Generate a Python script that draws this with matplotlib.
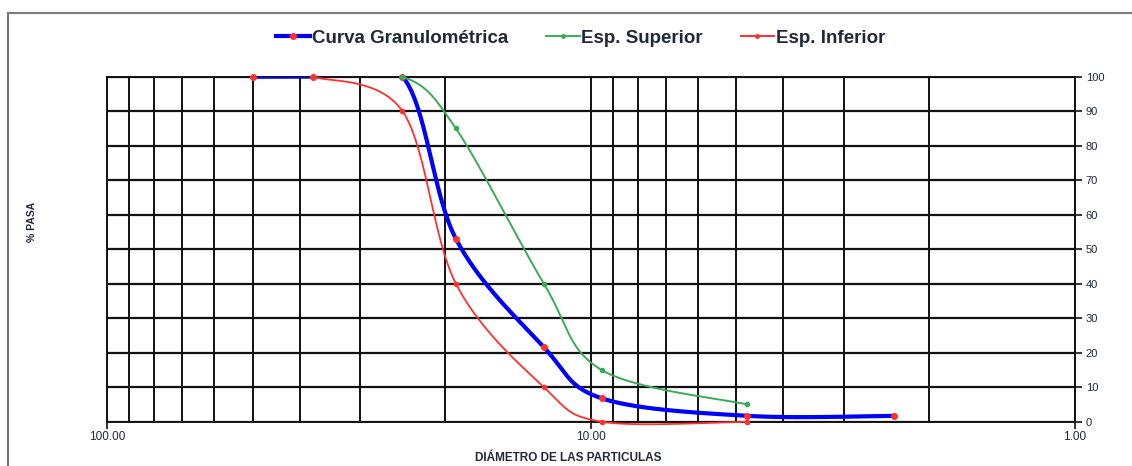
import numpy as np
import matplotlib
matplotlib.use("Agg")
import matplotlib.pyplot as plt
from matplotlib.lines import Line2D
from matplotlib.patches import Rectangle
from matplotlib.ticker import FixedLocator, NullFormatter, FixedFormatter

# ---------------- data ----------------
curva_x = [50, 37.5, 24.5, 19, 12.5, 9.5, 4.75, 2.36]
curva_y = [100, 100, 100, 53, 21.6, 6.8, 1.7, 1.7]

sup_x = [37.5, 24.5, 19, 12.5, 9.5, 4.75]
sup_y = [100, 100, 85, 40, 15, 5]

inf_x = [37.5, 24.5, 19, 12.5, 9.5, 4.75]
inf_y = [100, 90, 40, 10, 0, 0]

x_major = [100, 10, 1]
x_major_labels = ["100.00", "10.00", "1.00"]
y_ticks = list(range(0, 101, 10))

legend_labels = ["Curva Granulométrica", "Esp. Superior", "Esp. Inferior"]

# ---------------- helpers ----------------
def excel_smooth(xs, ys, n=60):
    u = np.log10(np.asarray(xs, float))
    y = np.asarray(ys, float)
    P = np.column_stack([u, y])
    out = []
    m = len(P)
    for i in range(m - 1):
        p0 = P[i - 1] if i > 0 else P[i]
        p1 = P[i]
        p2 = P[i + 1]
        p3 = P[i + 2] if i + 2 < m else P[i + 1]
        b1 = p1 + (p2 - p0) / 6.0
        b2 = p2 - (p3 - p1) / 6.0
        t = np.linspace(0, 1, n)[:, None]
        seg = ((1 - t) ** 3) * p1 + 3 * ((1 - t) ** 2) * t * b1 + 3 * (1 - t) * t ** 2 * b2 + t ** 3 * p2
        if i > 0:
            seg = seg[1:]
        out.append(seg)
    out = np.vstack(out)
    return 10 ** out[:, 0], out[:, 1]

plt.rcParams['font.family'] = ['Liberation Sans', 'DejaVu Sans']

W, H = 1132, 466
fig = plt.figure(figsize=(W / 100, H / 100), dpi=100)
fig.patch.set_facecolor("white")

# outer border
border_col = "#7a7a7a"
fig.add_artist(Line2D([8 / W, 8 / W], [0, 1 - 13 / H], transform=fig.transFigure, color=border_col, lw=1.5))
fig.add_artist(Line2D([8 / W, 1], [1 - 13 / H, 1 - 13 / H], transform=fig.transFigure, color=border_col, lw=1.5))

ax = fig.add_axes([107 / W, 44.3 / H, (1074.5 - 107) / W, (421.7 - 76.7) / H])
ax.set_xscale("log")
ax.set_xlim(100, 1)
ax.set_ylim(0, 100)

ax.xaxis.set_major_locator(FixedLocator(x_major))
ax.xaxis.set_major_formatter(FixedFormatter(x_major_labels))
ax.xaxis.set_minor_locator(FixedLocator([k * 10 ** e for e in (0, 1) for k in range(2, 10)]))
ax.xaxis.set_minor_formatter(NullFormatter())
ax.yaxis.set_major_locator(FixedLocator(y_ticks))
ax.yaxis.tick_right()

grid_col = "#111111"
ax.grid(True, which="both", axis="x", color=grid_col, lw=1.4)
ax.grid(True, which="major", axis="y", color=grid_col, lw=1.6)
ax.set_axisbelow(True)
for s in ax.spines.values():
    s.set_color(grid_col)
    s.set_linewidth(1.4)

txt_col = "#20283a"
ax.tick_params(axis="x", which="major", direction="out", length=5, width=1.2, color=grid_col,
               labelsize=8.5, labelcolor=txt_col, pad=2)
ax.tick_params(axis="x", which="minor", length=0)
ax.tick_params(axis="y", which="major", direction="out", length=5, width=1.2, color=grid_col,
               labelsize=8, labelcolor=txt_col, pad=3, right=True, left=False)

# curves
blue = "#0000ff"
green = "#3aaa5a"
red = "#ff3030"

bx, by = excel_smooth(curva_x, curva_y)
gx, gy = excel_smooth(sup_x, sup_y)
rx, ry = excel_smooth(inf_x, inf_y)

ax.plot(bx, by, color=blue, lw=3.0, zorder=3, solid_capstyle="round")
ax.plot(gx, gy, color=green, lw=1.4, zorder=4)
red_line, = ax.plot(rx, ry, color=red, lw=1.3, zorder=5)
clip_rect = Rectangle((1, -1.5), 99, 101.5, transform=ax.transData, fill=False)
red_line.set_clip_path(clip_rect)

ax.plot(curva_x, curva_y, ls="none", marker="o", ms=4, color=red, mec=red, zorder=6, clip_on=False)
ax.plot(sup_x, sup_y, ls="none", marker="o", ms=3, color=green, mec=green, zorder=6, clip_on=False)
ax.plot(inf_x, inf_y, ls="none", marker="o", ms=3, color=red, mec=red, zorder=6, clip_on=False)

fig.text(32 / W, 1 - 222 / H, "% PASA", rotation=90, ha="center", va="center",
         fontsize=7.5, fontweight="bold", color=txt_col)
fig.text(568 / W, 1 - 458 / H, "DIÁMETRO DE LAS PARTICULAS", ha="center", va="center",
         fontsize=8.5, fontweight="bold", color=txt_col)

handles = [
    Line2D([], [], color=blue, lw=3, marker="o", ms=4, mfc=red, mec=red),
    Line2D([], [], color=green, lw=1.4, marker="o", ms=2.5, mfc=green, mec=green),
    Line2D([], [], color=red, lw=1.4, marker="o", ms=2.5, mfc=red, mec=red),
]
leg = fig.legend(handles, legend_labels, loc="center", bbox_to_anchor=(581 / W, 1 - 38 / H),
                 ncol=3, frameon=False, numpoints=1, handlelength=1.8, handletextpad=0.1,
                 columnspacing=2.0, prop={"size": 13.5, "weight": "bold"})
for t in leg.get_texts():
    t.set_color(txt_col)

fig.savefig("out.png", dpi=100, facecolor="white")
